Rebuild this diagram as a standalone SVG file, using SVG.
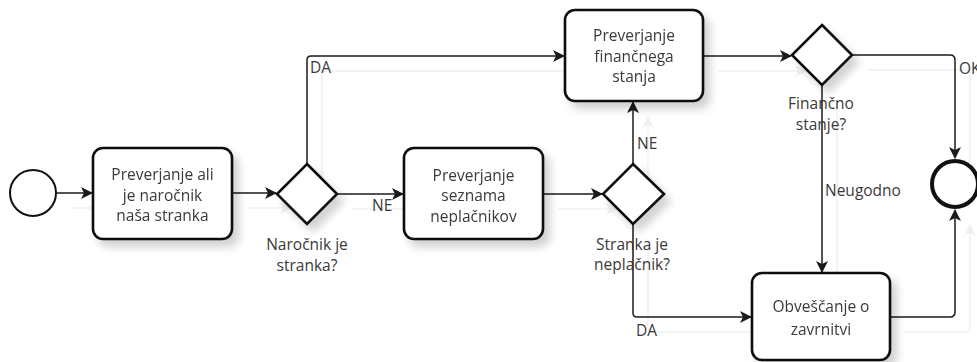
<svg xmlns="http://www.w3.org/2000/svg" xmlns:xlink="http://www.w3.org/1999/xlink" width="977" height="362" viewBox="0 0 977 362">
  <style>
    text { font-family: "Open Sans", "Noto Sans", "Liberation Sans", sans-serif; font-size: 15.5px; fill: #3a3a3a; }
    .c { text-anchor: middle; }
    .task { fill: #fff; stroke: #111; stroke-width: 2.6; }
    .gw { fill: #fff; stroke: #111; stroke-width: 2.6; stroke-linejoin: miter; }
    .flow { fill: none; stroke: #1a1a1a; stroke-width: 1.5; marker-end: url(#arrow); }
  </style>
  <defs>
    <marker id="arrow" viewBox="0 0 12 12" refX="11" refY="6" markerWidth="12" markerHeight="12" markerUnits="userSpaceOnUse" orient="auto">
      <path d="M0,0 L12,6 L0,12 L3,6 z" fill="#1a1a1a"/>
    </marker>
    <filter id="soft" x="-20%" y="-20%" width="150%" height="150%">
      <feGaussianBlur in="SourceAlpha" stdDeviation="4"/>
      <feOffset dx="6" dy="7" result="b"/>
      <feComponentTransfer><feFuncA type="linear" slope="0.18"/></feComponentTransfer>
      <feMerge><feMergeNode/><feMergeNode in="SourceGraphic"/></feMerge>
    </filter>
    <filter id="ghost">
      <feFlood flood-color="#000" flood-opacity="0.06"/>
      <feComposite operator="in" in2="SourceAlpha"/>
    </filter>
  </defs>

  <!-- faint echo of the sequence flows -->
  <use xlink:href="#flows" transform="translate(15,15)" filter="url(#ghost)"/>

  <g id="flows">
    <path class="flow" d="M56,193 H92"/>
    <path class="flow" d="M232,193 H276"/>
    <path class="flow" d="M307,164 V60 Q307,56 311,56 H564"/>
    <path class="flow" d="M337,194 H403"/>
    <path class="flow" d="M543,194 H602"/>
    <path class="flow" d="M633,164 V102"/>
    <path class="flow" d="M633,224 V313 Q633,317 637,317 H751"/>
    <path class="flow" d="M703,56 H791"/>
    <path class="flow" d="M822,85 V272"/>
    <path class="flow" d="M852,55 H950 Q955,55 955,60 V158"/>
    <path class="flow" d="M890,317 H950 Q955,317 955,312 V210"/>
  </g>

  <g id="start">
    <circle cx="33" cy="193" r="23" fill="#fff" stroke="#111" stroke-width="2"/>
  </g>

  <g id="task-stranka" filter="url(#soft)">
    <rect class="task" x="93" y="148" width="139" height="91" rx="10"/>
    <text class="c" x="162.5" y="180">Preverjanje ali</text>
    <text class="c" x="162.5" y="201">je naročnik</text>
    <text class="c" x="162.5" y="221">naša stranka</text>
  </g>

  <g id="gw-stranka" filter="url(#soft)">
    <path class="gw" d="M307,164 L337,194 L307,224 L277,194 z"/>
  </g>
  <text class="c" x="307" y="250">Naročnik je</text>
  <text class="c" x="307" y="271">stranka?</text>

  <g id="task-neplacniki" filter="url(#soft)">
    <rect class="task" x="404" y="148" width="139" height="91" rx="10"/>
    <text class="c" x="473.5" y="181">Preverjanje</text>
    <text class="c" x="473.5" y="201">seznama</text>
    <text class="c" x="473.5" y="222">neplačnikov</text>
  </g>

  <g id="gw-neplacnik" filter="url(#soft)">
    <path class="gw" d="M633,164 L664,194 L633,224 L603,194 z"/>
  </g>
  <text class="c" x="632" y="250">Stranka je</text>
  <text class="c" x="632" y="270">neplačnik?</text>

  <g id="task-financno" filter="url(#soft)">
    <rect class="task" x="565" y="10" width="138" height="91" rx="10"/>
    <text class="c" x="634" y="41">Preverjanje</text>
    <text class="c" x="634" y="62">finančnega</text>
    <text class="c" x="634" y="82">stanja</text>
  </g>

  <g id="gw-financno" filter="url(#soft)">
    <path class="gw" d="M822,25 L852,55 L822,85 L792,55 z"/>
  </g>
  <text class="c" x="821" y="109">Finančno</text>
  <text class="c" x="821" y="130">stanje?</text>

  <g id="task-obvescanje" filter="url(#soft)">
    <rect class="task" x="752" y="273" width="138" height="87" rx="10"/>
    <text class="c" x="821" y="312">Obveščanje o</text>
    <text class="c" x="821" y="335">zavrnitvi</text>
  </g>

  <g id="end">
    <circle cx="955" cy="184" r="23" fill="#fff" stroke="#111" stroke-width="4"/>
  </g>

  <g id="flow-labels">
    <text x="310" y="73">DA</text>
    <text x="372" y="211">NE</text>
    <text x="637" y="149">NE</text>
    <text x="636" y="336">DA</text>
    <text x="825" y="196">Neugodno</text>
    <text x="959" y="74">OK</text>
  </g>
</svg>
